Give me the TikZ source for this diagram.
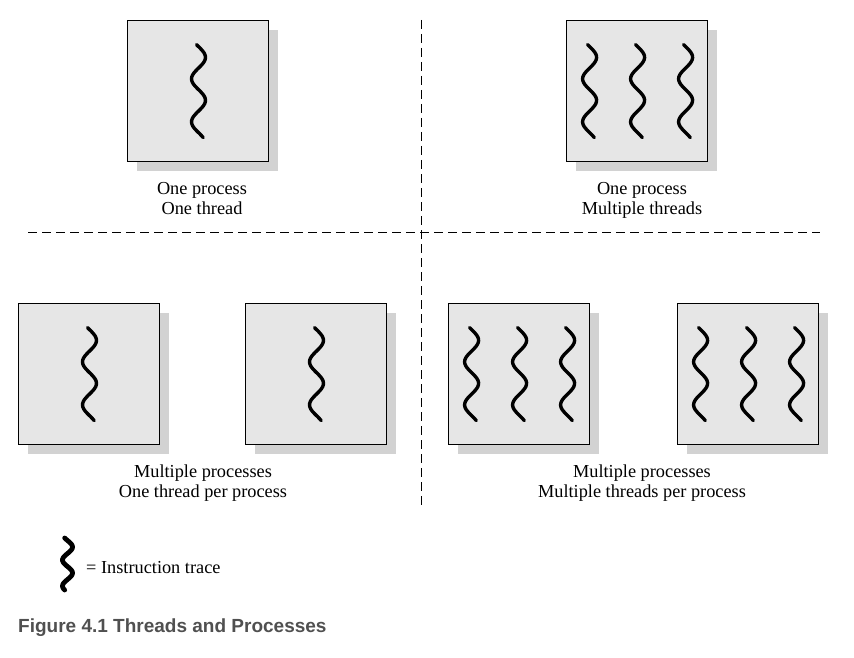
\documentclass[tikz,border=0pt]{standalone}
\usepackage{fontspec}
\setmainfont{Liberation Serif}
\newfontfamily\captionfont{Liberation Sans}
\usetikzlibrary{positioning,shadows}
\definecolor{boxgray}{HTML}{E6E6E6}
\definecolor{shadowgray}{HTML}{D2D2D2}
\definecolor{capgray}{HTML}{505050}
\tikzset{
  procbox/.style={draw, line width=0.8pt, fill=boxgray, minimum size=141pt, inner sep=0pt,
    drop shadow={shadow xshift=10pt, shadow yshift=-10pt, fill=shadowgray, opacity=1}},
  trace/.pic={\draw[line width=3.4pt, line cap=round]
    plot[domain=0:93, samples=50, smooth] ({7*sin((\x-2)/43*360)}, \x);},
  key trace/.pic={\draw[line width=4.8pt, line cap=round]
    plot[domain=0:52, samples=40, smooth] ({5*sin((\x-2.5)/26*360)}, \x);},
  divider/.style={line width=0.9pt, dash pattern=on 9pt off 5pt},
  caption/.style={font=\fontsize{18.3}{20}\selectfont, align=center, inner sep=0pt},
}

\begin{document}
\begin{tikzpicture}[x=1pt, y=-1pt]
  \useasboundingbox (0,0) rectangle (854,658);
  % dividers
  \coordinate (vtop) at (421,20);
  \coordinate (vbot) at (421,508);
  \coordinate (hleft) at (28,232);
  \coordinate (hright) at (820,232);
  \draw[divider] (vtop) -- (vbot);
  \draw[divider] (hleft) -- (hright);
  % processes
  \node[procbox] (pa) at (197.5,90.5) {};
  \node[procbox] (pb) at (636.5,90.5) {};
  \node[procbox] (pc) at (88.5,373.5) {};
  \node[procbox] (pd) at (315.5,373.5) {};
  \node[procbox] (pe) at (518.5,373.5) {};
  \node[procbox] (pf) at (747.5,373.5) {};
  % instruction traces
  \foreach \p in {pa,pc,pd}
    \path ([xshift=1pt, yshift=-25pt]\p.north) pic {trace};
  \foreach \p in {pb,pe,pf}
    \foreach \dx in {24,72,120}
      \path ([xshift=\dx pt, yshift=-25pt]\p.north west) pic {trace};
  % labels
  \node[caption] (la) at (202,198.5) {One process\\One thread};
  \node[caption] (lb) at (642,200.5) {One process\\Multiple threads};
  \node[caption] (lc) at (203,483) {Multiple processes\\One thread per process};
  \node[caption] (ld) at (642,483) {Multiple processes\\Multiple threads per process};
  % legend
  \coordinate (keytop) at (67.5,538);
  \path (keytop) pic {key trace};
  \node[caption, anchor=west] (key) at (86,568) {= Instruction trace};
  \node[anchor=west, inner sep=0pt, text=capgray, font=\captionfont\bfseries\fontsize{19}{22}\selectfont] (fig) at (18,628) {Figure 4.1 Threads and Processes};
\end{tikzpicture}
\end{document}
